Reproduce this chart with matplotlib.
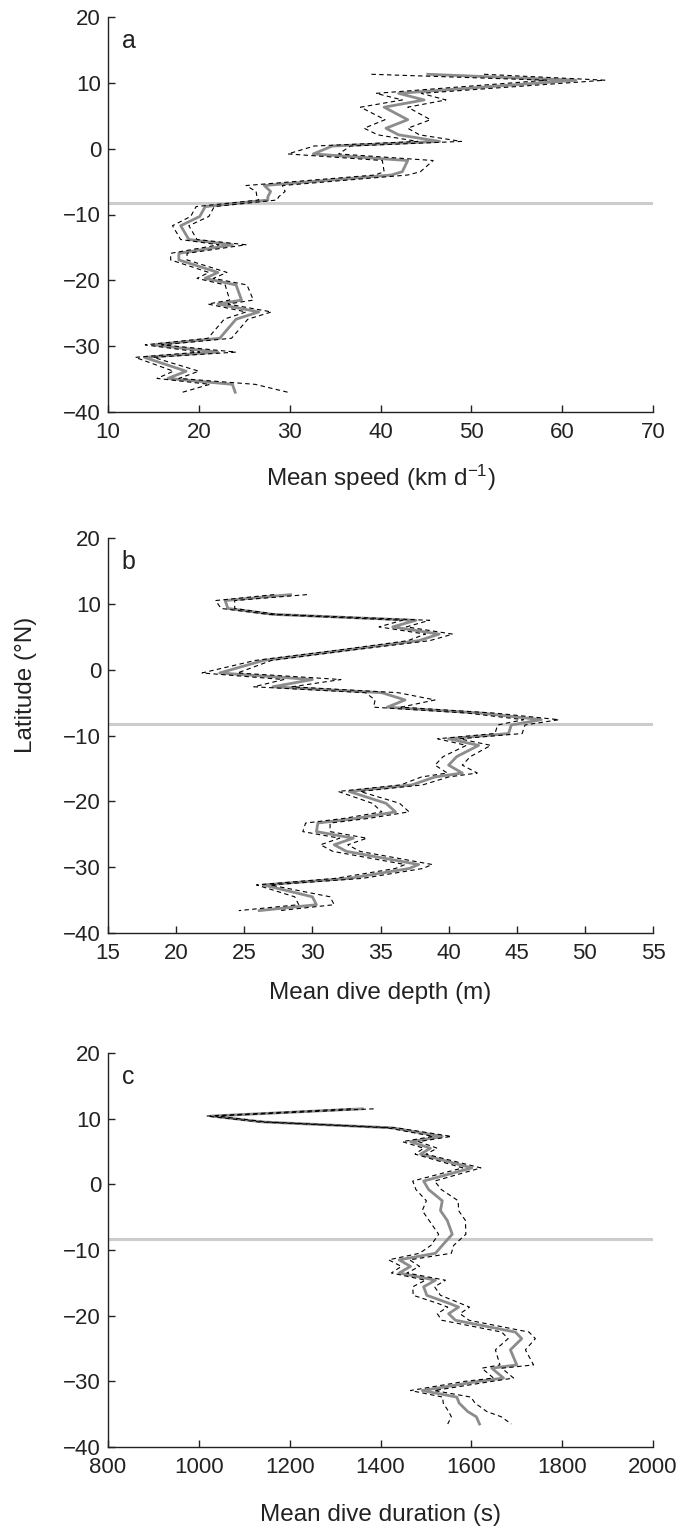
import numpy as np
import matplotlib
matplotlib.use("Agg")
import matplotlib.pyplot as plt

plt.rcParams['font.family'] = ['Liberation Sans', 'DejaVu Sans']
plt.rcParams['mathtext.default'] = 'regular'

# --- panel a: mean speed by latitude ---
lat_a = [11.3, 10.4, 8.4, 7.4, 6.3, 4.4, 3.1, 2.1, 1.1, 0.4,
         -0.8, -1.8, -3.5, -4.0, -5.6, -6.5, -7.3, -7.8, -8.8, -10.3,
         -11.7, -13.8, -14.6, -15.9, -16.9, -18.8, -19.7, -20.7, -23.0, -23.6,
         -24.8, -25.9, -28.8, -29.8, -30.9, -31.7, -33.8, -34.9, -35.8, -37.0]
speed = [45.2, 61.5, 42.0, 44.8, 40.4, 43.0, 40.6, 42.0, 46.5, 34.7,
         32.6, 43.0, 42.4, 41.2, 27.2, 27.9, 27.6, 27.6, 20.7, 20.1,
         18.0, 18.9, 23.7, 17.8, 17.8, 22.1, 20.7, 24.1, 24.7, 22.1,
         26.6, 24.1, 22.3, 15.0, 22.1, 14.0, 18.6, 16.6, 23.7, 24.0]
speed_ci = [6.2, 3.2, 2.5, 2.4, 2.6, 2.5, 2.4, 2.3, 2.4, 2.0,
            2.8, 2.8, 2.0, 1.8, 2.0, 1.6, 1.2, 1.0, 1.0, 1.0,
            0.9, 0.9, 1.5, 0.9, 0.9, 1.0, 0.9, 1.2, 1.3, 1.1,
            1.4, 1.3, 1.3, 0.9, 2.0, 1.0, 1.4, 1.2, 2.5, 5.8]

# --- panel b: mean dive depth ---
lat_b = [11.4, 10.5, 9.3, 8.4, 7.5, 6.5, 5.4, 4.4, 3.0, 1.4,
         -0.5, -1.5, -2.6, -3.5, -4.6, -5.7, -6.6, -7.6, -8.4, -9.7,
         -10.5, -11.5, -13.2, -14.5, -15.7, -16.3, -17.5, -18.5, -20.3, -21.6,
         -22.6, -23.3, -24.6, -25.6, -26.6, -27.6, -29.6, -30.2, -31.7, -32.7,
         -34.5, -35.7, -36.6]
depth = [28.4, 23.6, 23.8, 27.1, 37.6, 35.9, 39.3, 37.8, 32.5, 26.4,
         23.2, 30.0, 27.1, 35.1, 36.8, 35.5, 42.4, 46.8, 44.6, 44.4,
         40.0, 42.2, 40.6, 40.0, 41.0, 39.0, 37.3, 32.7, 35.4, 36.1,
         33.2, 30.4, 30.3, 33.0, 31.6, 32.5, 37.8, 37.1, 32.7, 26.4,
         30.0, 30.3, 26.1]
depth_ci = [1.2, 0.7, 0.5, 0.3, 1.0, 1.0, 1.0, 0.8, 0.5, 0.6,
            1.3, 2.1, 1.4, 1.2, 2.2, 1.0, 1.0, 1.3, 1.0, 1.0,
            0.8, 0.9, 1.0, 1.0, 1.1, 1.0, 0.8, 0.8, 1.0, 1.0,
            0.9, 0.9, 1.0, 1.0, 1.0, 1.0, 1.0, 1.0, 1.0, 0.5,
            1.3, 1.3, 1.5]

# --- panel c: mean dive duration ---
lat_c = [11.5, 10.4, 9.5, 8.6, 7.3, 6.5, 5.5, 4.6, 2.5, 0.5,
         -0.8, -2.5, -4.0, -5.5, -7.6, -9.3, -10.5, -11.5, -12.5, -13.5,
         -14.6, -15.6, -16.9, -18.1, -18.7, -19.7, -20.7, -22.5, -23.5, -25.2,
         -27.5, -28.0, -29.5, -30.0, -31.4, -32.4, -33.3, -34.6, -35.4, -36.5]
duration = [1360, 1027, 1141, 1426, 1536, 1466, 1510, 1488, 1601, 1495,
            1506, 1536, 1532, 1547, 1558, 1536, 1521, 1441, 1466, 1441,
            1521, 1495, 1502, 1550, 1572, 1550, 1565, 1697, 1711, 1686,
            1700, 1645, 1671, 1616, 1492, 1568, 1573, 1592, 1611, 1618]
duration_ci = [25, 10, 8, 10, 20, 18, 15, 12, 20, 24,
               28, 35, 40, 40, 30, 25, 35, 23, 20, 17,
               22, 24, 30, 25, 24, 25, 30, 30, 30, 33,
               37, 22, 22, 30, 26, 31, 35, 42, 55, 70]

boundary_lat = -8.3

W, H = 682, 1530
fig = plt.figure(figsize=(W / 100, H / 100), dpi=100)


def px_axes(left, top, right, bottom):
    return fig.add_axes([left / W, 1 - bottom / H, (right - left) / W, (bottom - top) / H])


# (letter, lat, values, ci, xlim, xticks, xlabel, (top, bottom) px, xlabel centre px)
panels = [
    ("a", lat_a, speed, speed_ci, (10, 70), np.arange(10, 71, 10),
     "Mean speed (km d$^{\u22121}$)", (17, 412), 478),
    ("b", lat_b, depth, depth_ci, (15, 55), np.arange(15, 56, 5),
     "Mean dive depth (m)", (538, 933), 993),
    ("c", lat_c, duration, duration_ci, (800, 2000), np.arange(800, 2001, 200),
     "Mean dive duration (s)", (1053, 1447), 1515),
]

for letter, lat, val, ci, xlim, xticks, xlabel, (top, bottom), label_y in panels:
    ax = px_axes(108, top, 653, bottom)
    lat = np.array(lat)
    val = np.array(val)
    ci = np.array(ci)
    ax.axhline(boundary_lat, color='#cccccc', lw=2.2, zorder=1)
    ax.plot(val, lat, color='#8c8c8c', lw=2.0, zorder=2)
    ax.plot(val - ci, lat, color='black', lw=0.8, ls=(0, (4, 3)), zorder=3)
    ax.plot(val + ci, lat, color='black', lw=0.8, ls=(0, (4, 3)), zorder=3)
    ax.set_xlim(*xlim)
    ax.set_ylim(-40, 20)
    ax.set_xticks(xticks)
    ax.set_yticks(np.arange(-40, 21, 10))
    for s in ['top', 'right']:
        ax.spines[s].set_visible(False)
    for s in ['left', 'bottom']:
        ax.spines[s].set_linewidth(1.0)
        ax.spines[s].set_color('#222222')
    ax.tick_params(direction='in', length=5, width=1.0, labelsize=16,
                   colors='#222222')
    ax.tick_params(axis='x', pad=7)
    ax.tick_params(axis='y', pad=5)
    ax.set_xlabel(xlabel, fontsize=17.5, color='#222222')
    ax.xaxis.set_label_coords(0.5, -(label_y - bottom) / (bottom - top))
    ax.xaxis.label.set_va('center')
    ax.text(0.025, 0.94, letter, transform=ax.transAxes, fontsize=18,
            va='center', ha='left', color='#222222')

fig.text(26 / W, 1 - 685 / H, "Latitude (°N)", rotation=90, fontsize=17.5,
         ha='center', va='center', color='#222222')

fig.savefig("out.png", dpi=100)
